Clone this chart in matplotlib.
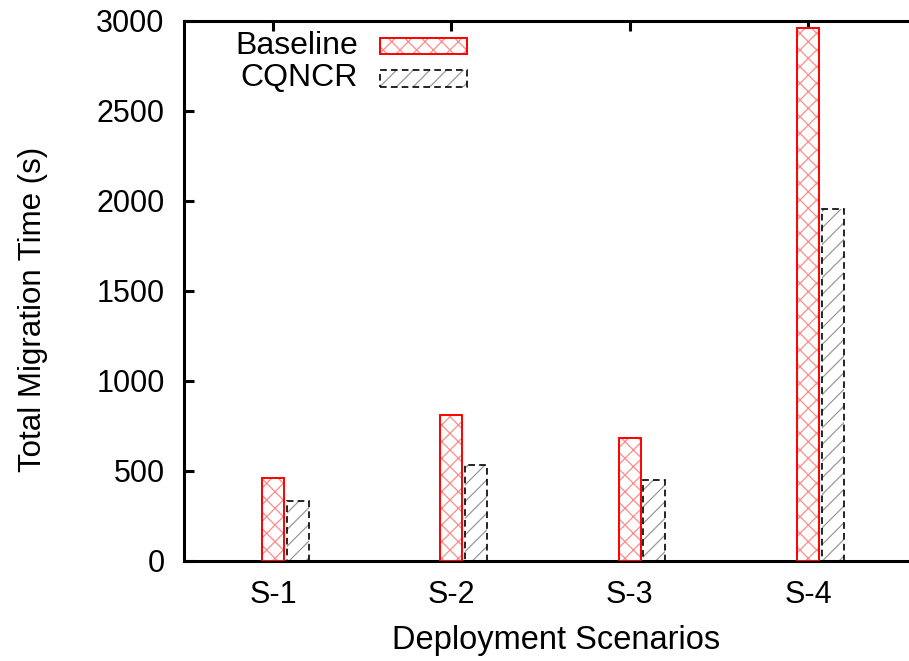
import matplotlib
matplotlib.use("Agg")
import matplotlib.pyplot as plt
from matplotlib.patches import Rectangle
import numpy as np

categories = ["S-1", "S-2", "S-3", "S-4"]
baseline = [461, 811, 685, 2961]
cqncr = [333, 533, 450, 1955]
yticks = [0, 500, 1000, 1500, 2000, 2500, 3000]

plt.rcParams['font.family'] = ['Liberation Sans', 'DejaVu Sans']
plt.rcParams['hatch.linewidth'] = 0.9

W, H = 909, 661
fig = plt.figure(figsize=(W / 100, H / 100), dpi=100)
left, right, top, bottom = 184, 915, 21, 561
ax = fig.add_axes([left / W, 1 - bottom / H, (right - left) / W, (bottom - top) / H])

x = np.arange(1, len(categories) + 1)
bw = 0.123
off = 0.138

red_hatch = '#ff8a8a'
gray_hatch = '#999999'

# Baseline: light red crosshatch, red outline
ax.bar(x, baseline, bw, facecolor='white', edgecolor=red_hatch, hatch='xx', linewidth=0, zorder=2)
ax.bar(x, baseline, bw, fill=False, edgecolor='red', linewidth=1.4, zorder=3)
# CQNCR: gray diagonal hatch, dashed black outline
ax.bar(x + off, cqncr, bw, facecolor='white', edgecolor=gray_hatch, hatch='//', linewidth=0, zorder=2)
ax.bar(x + off, cqncr, bw, fill=False, edgecolor='black', linewidth=1.2, linestyle=(0, (4, 2.5)), zorder=3)

ax.set_xlim(0.5, 4.6)
ax.set_ylim(0, 3000)
ax.set_yticks(yticks)
ax.set_xticks(x)
ax.set_xticklabels(categories)

for s in ax.spines.values():
    s.set_linewidth(2.2)
ax.tick_params(axis='both', direction='in', length=7, width=2.2, labelsize=22)
ax.tick_params(axis='x', bottom=False, top=True, pad=14)
ax.tick_params(axis='y', left=True, right=False, pad=14)

fig.text(556 / W, 1 - 641 / H, "Deployment Scenarios", ha='center', va='center', fontsize=23.5)
fig.text(33 / W, 1 - 309 / H, "Total Migration Time (s)", ha='center', va='center',
         rotation=90, fontsize=22.5)

# Legend (gnuplot style: text then sample box)
fig.text(358 / W, 1 - 46 / H, "Baseline", ha='right', va='center', fontsize=23)
fig.text(358 / W, 1 - 78 / H, "CQNCR", ha='right', va='center', fontsize=23)
r1a = Rectangle((380 / W, 1 - 54 / H), 87 / W, 16 / H, transform=fig.transFigure,
                facecolor='white', edgecolor=red_hatch, hatch='xx', linewidth=0)
r1b = Rectangle((380 / W, 1 - 54 / H), 87 / W, 16 / H, transform=fig.transFigure,
                fill=False, edgecolor='red', linewidth=1.4)
r2a = Rectangle((380 / W, 1 - 87 / H), 87 / W, 17 / H, transform=fig.transFigure,
                facecolor='white', edgecolor=gray_hatch, hatch='//', linewidth=0)
r2b = Rectangle((380 / W, 1 - 87 / H), 87 / W, 17 / H, transform=fig.transFigure,
                fill=False, edgecolor='black', linewidth=1.2, linestyle=(0, (4, 2.5)))
for r in (r1a, r1b, r2a, r2b):
    fig.patches.append(r)

fig.savefig("out.png", dpi=100)
